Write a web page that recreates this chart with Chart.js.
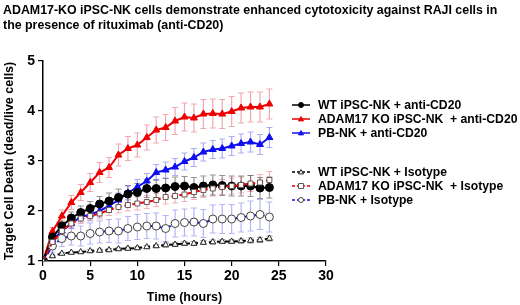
<!DOCTYPE html>
<html>
<head>
<meta charset="utf-8">
<script src="https://cdn.jsdelivr.net/npm/chart.js@4.4.0/dist/chart.umd.min.js"></script>
<style>
  html, body { margin: 0; padding: 0; background: #fff; }
  #wrap { width: 520px; height: 305px; }
</style>
</head>
<body>
<div id="wrap"><canvas id="chart" width="520" height="305"></canvas></div>
<script>
const hours = [0, 1, 2, 3, 4, 5, 6, 7, 8, 9, 10, 11, 12, 13, 14, 15, 16, 17, 18, 19, 20, 21, 22, 23, 24];

const wtAnti = [1, 1.48, 1.7, 1.86, 1.97, 2.05, 2.14, 2.2, 2.27, 2.34, 2.37, 2.45, 2.45, 2.46, 2.49, 2.5, 2.47, 2.5, 2.52, 2.51, 2.5, 2.5, 2.5, 2.46, 2.47];
const wtAntiErr = [0, 0.08, 0.1, 0.12, 0.13, 0.14, 0.15, 0.16, 0.17, 0.17, 0.18, 0.18, 0.18, 0.19, 0.19, 0.19, 0.2, 0.2, 0.2, 0.2, 0.2, 0.2, 0.21, 0.21, 0.21];

const koAnti = [1, 1.59, 1.9, 2.17, 2.37, 2.57, 2.77, 2.87, 3.12, 3.25, 3.32, 3.47, 3.62, 3.67, 3.8, 3.88, 3.86, 3.94, 3.95, 3.94, 3.99, 4.06, 4.08, 4.08, 4.14];
const koAntiErr = [0, 0.08, 0.12, 0.14, 0.16, 0.18, 0.2, 0.2, 0.22, 0.24, 0.24, 0.25, 0.26, 0.26, 0.27, 0.28, 0.28, 0.29, 0.29, 0.29, 0.3, 0.3, 0.3, 0.3, 0.3];

const pbAnti = [1, 1.42, 1.6, 1.75, 1.88, 1.93, 2.0, 2.1, 2.22, 2.36, 2.48, 2.6, 2.77, 2.82, 2.88, 2.99, 3.07, 3.18, 3.23, 3.25, 3.3, 3.35, 3.38, 3.33, 3.47];
const pbAntiErr = [0, 0.06, 0.08, 0.1, 0.1, 0.11, 0.12, 0.13, 0.14, 0.14, 0.15, 0.15, 0.16, 0.16, 0.17, 0.17, 0.18, 0.18, 0.18, 0.19, 0.19, 0.19, 0.2, 0.2, 0.2];

const wtIso = [1, 1.1, 1.15, 1.17, 1.18, 1.2, 1.21, 1.22, 1.24, 1.25, 1.26, 1.28, 1.3, 1.32, 1.33, 1.35, 1.35, 1.37, 1.38, 1.39, 1.39, 1.4, 1.41, 1.42, 1.45];
const wtIsoErr = [0, 0.02, 0.02, 0.02, 0.02, 0.03, 0.03, 0.03, 0.03, 0.03, 0.03, 0.03, 0.03, 0.04, 0.04, 0.04, 0.04, 0.04, 0.04, 0.04, 0.04, 0.04, 0.05, 0.05, 0.05];

const koIso = [1, 1.38, 1.6, 1.75, 1.85, 1.9, 1.95, 2.02, 2.08, 2.12, 2.15, 2.18, 2.22, 2.28, 2.3, 2.33, 2.38, 2.42, 2.45, 2.48, 2.5, 2.52, 2.55, 2.57, 2.62];
const koIsoErr = [0, 0.06, 0.08, 0.09, 0.1, 0.1, 0.11, 0.11, 0.12, 0.12, 0.13, 0.13, 0.13, 0.14, 0.14, 0.14, 0.15, 0.15, 0.15, 0.15, 0.16, 0.16, 0.16, 0.16, 0.17];

const pbIso = [1, 1.3, 1.45, 1.5, 1.5, 1.55, 1.58, 1.6, 1.6, 1.65, 1.68, 1.7, 1.7, 1.65, 1.75, 1.77, 1.78, 1.75, 1.84, 1.84, 1.84, 1.87, 1.9, 1.93, 1.88];
const pbIsoErr = [0, 0.12, 0.16, 0.18, 0.2, 0.21, 0.22, 0.23, 0.24, 0.24, 0.25, 0.25, 0.26, 0.26, 0.27, 0.27, 0.28, 0.28, 0.28, 0.29, 0.29, 0.29, 0.3, 0.3, 0.3];

const xTicks = [0, 5, 10, 15, 20, 25, 30];
const yTicks = [1, 2, 3, 4, 5];

const titleLines = ["ADAM17-KO iPSC-NK cells demonstrate enhanced cytotoxicity against RAJI cells in", "the presence of rituximab (anti-CD20)"];

const FONT = "'Liberation Sans', Arial, sans-serif";

function pts(vals) {
  return vals.map((v, i) => ({ x: hours[i], y: v }));
}

const series = [
  { label: "WT iPSC-NK + anti-CD20", data: wtAnti, err: wtAntiErr, color: "#000000", errColor: "rgba(60,60,60,0.55)", shape: "circle", fill: "#000000", edge: "#000000", dash: [], r: 4, group: 0 },
  { label: "ADAM17 KO iPSC-NK  + anti-CD20", data: koAnti, err: koAntiErr, color: "#ee0000", errColor: "rgba(225,60,80,0.45)", shape: "triangle", fill: "#ee0000", edge: "#ee0000", dash: [], r: 4, group: 0 },
  { label: "PB-NK + anti-CD20", data: pbAnti, err: pbAntiErr, color: "#1010ee", errColor: "rgba(70,70,235,0.45)", shape: "triangle", fill: "#1010ee", edge: "#1010ee", dash: [], r: 4, group: 0 },
  { label: "WT iPSC-NK + Isotype", data: wtIso, err: wtIsoErr, color: "#000000", errColor: "rgba(60,60,60,0.5)", shape: "triangle", fill: "#ffffff", edge: "#222222", dash: [5, 3], r: 3.5, group: 1 },
  { label: "ADAM17 KO iPSC-NK  + Isotype", data: koIso, err: koIsoErr, color: "#ee0000", errColor: "rgba(225,60,80,0.4)", shape: "rect", fill: "#ffffff", edge: "#6e5555", dash: [5, 3], r: 3.5, group: 1 },
  { label: "PB-NK + Isotype", data: pbIso, err: pbIsoErr, color: "#1010ee", errColor: "rgba(90,90,235,0.45)", shape: "circle", fill: "#ffffff", edge: "#444444", dash: [5, 3], r: 4, group: 1 }
];

// isotype drawn first so the anti-CD20 curves sit on top
const drawOrder = [3, 4, 5, 0, 2, 1];

const datasets = drawOrder.map(k => {
  const s = series[k];
  return {
    label: s.label,
    data: pts(s.data),
    err: s.err,
    errColor: s.errColor,
    borderColor: s.color,
    borderWidth: 2,
    borderDash: s.dash,
    pointStyle: s.shape,
    pointRadius: s.r,
    pointBackgroundColor: s.fill,
    pointBorderColor: s.edge,
    pointBorderWidth: 1,
    tension: 0,
    fill: false
  };
});

const errorBars = {
  id: "errorBars",
  beforeDatasetsDraw(chart) {
    const ctx = chart.ctx;
    const ys = chart.scales.y;
    chart.data.datasets.forEach((ds, di) => {
      const meta = chart.getDatasetMeta(di);
      ctx.save();
      ctx.strokeStyle = ds.errColor;
      ctx.lineWidth = 1.2;
      meta.data.forEach((el, i) => {
        const e = ds.err[i];
        if (!e) return;
        const v = ds.data[i].y;
        const top = ys.getPixelForValue(v + e);
        const bot = ys.getPixelForValue(v - e);
        const x = el.x;
        ctx.beginPath();
        ctx.moveTo(x, top); ctx.lineTo(x, bot);
        ctx.moveTo(x - 3, top); ctx.lineTo(x + 3, top);
        ctx.moveTo(x - 3, bot); ctx.lineTo(x + 3, bot);
        ctx.stroke();
      });
      ctx.restore();
    });
  }
};

function marker(ctx, shape, x, y, r, fill, edge) {
  ctx.beginPath();
  if (shape === "circle") {
    ctx.arc(x, y, r, 0, Math.PI * 2);
  } else if (shape === "triangle") {
    ctx.moveTo(x, y - r);
    ctx.lineTo(x + r, y + r * 0.75);
    ctx.lineTo(x - r, y + r * 0.75);
    ctx.closePath();
  } else {
    ctx.rect(x - r, y - r, r * 2, r * 2);
  }
  ctx.fillStyle = fill;
  ctx.fill();
  ctx.strokeStyle = edge;
  ctx.lineWidth = 1;
  ctx.stroke();
}

// title + split legend drawn by hand (title plugin would be squeezed by the right padding)
const extras = {
  id: "extras",
  afterDraw(chart) {
    const ctx = chart.ctx;
    ctx.save();
    ctx.fillStyle = "#000";
    ctx.textBaseline = "middle";
    ctx.font = "bold 12.4px " + FONT;
    ctx.fillText(titleLines[0], 3, 11);
    ctx.fillText(titleLines[1], 3, 26);

    ctx.font = "bold 12.2px " + FONT;
    const rowsY = [[105, 119, 133], [172, 186, 200]];
    const count = [0, 0];
    series.forEach(s => {
      const y = rowsY[s.group][count[s.group]++];
      ctx.strokeStyle = s.color;
      ctx.lineWidth = 1.5;
      ctx.setLineDash(s.dash.length ? [3, 2] : []);
      ctx.beginPath();
      ctx.moveTo(292, y); ctx.lineTo(310, y);
      ctx.stroke();
      ctx.setLineDash([]);
      marker(ctx, s.shape, 301, y, 2.5, s.fill, s.edge);
      ctx.fillStyle = "#000";
      ctx.fillText(s.label, 318, y + 1);
    });
    ctx.restore();
  }
};

new Chart(document.getElementById("chart"), {
  type: "line",
  data: { datasets },
  options: {
    responsive: false,
    animation: false,
    layout: { padding: { left: 2, right: 194, top: 61, bottom: 0 } },
    plugins: {
      legend: { display: false },
      tooltip: { enabled: false },
      title: { display: false }
    },
    scales: {
      x: {
        type: "linear",
        min: 0,
        max: 30,
        afterBuildTicks(axis) { axis.ticks = xTicks.map(v => ({ value: v })); },
        afterFit(axis) { axis.height = 44; },
        grid: { drawOnChartArea: false, drawTicks: true, tickLength: 5, color: "#000", lineWidth: 1.2 },
        border: { color: "#000", width: 1.5 },
        ticks: { color: "#000", font: { family: FONT, size: 14, weight: "bold" }, padding: 2, maxRotation: 0 },
        title: { display: true, text: "Time (hours)", color: "#000", font: { family: FONT, size: 12.5, weight: "bold" }, padding: { top: 2, bottom: 0 } }
      },
      y: {
        min: 1,
        max: 5,
        afterBuildTicks(axis) { axis.ticks = yTicks.map(v => ({ value: v })); },
        afterFit(axis) { axis.width = 41; },
        grid: { drawOnChartArea: false, drawTicks: true, tickLength: 5, color: "#000", lineWidth: 1.2 },
        border: { color: "#000", width: 1.5 },
        ticks: { color: "#000", font: { family: FONT, size: 14, weight: "bold" }, padding: 3 },
        title: { display: true, text: "Target Cell Death (dead/live cells)", color: "#000", font: { family: FONT, size: 12.5, weight: "bold" }, padding: { top: 0, bottom: 3 } }
      }
    }
  },
  plugins: [errorBars, extras]
});
</script>
</body>
</html>
